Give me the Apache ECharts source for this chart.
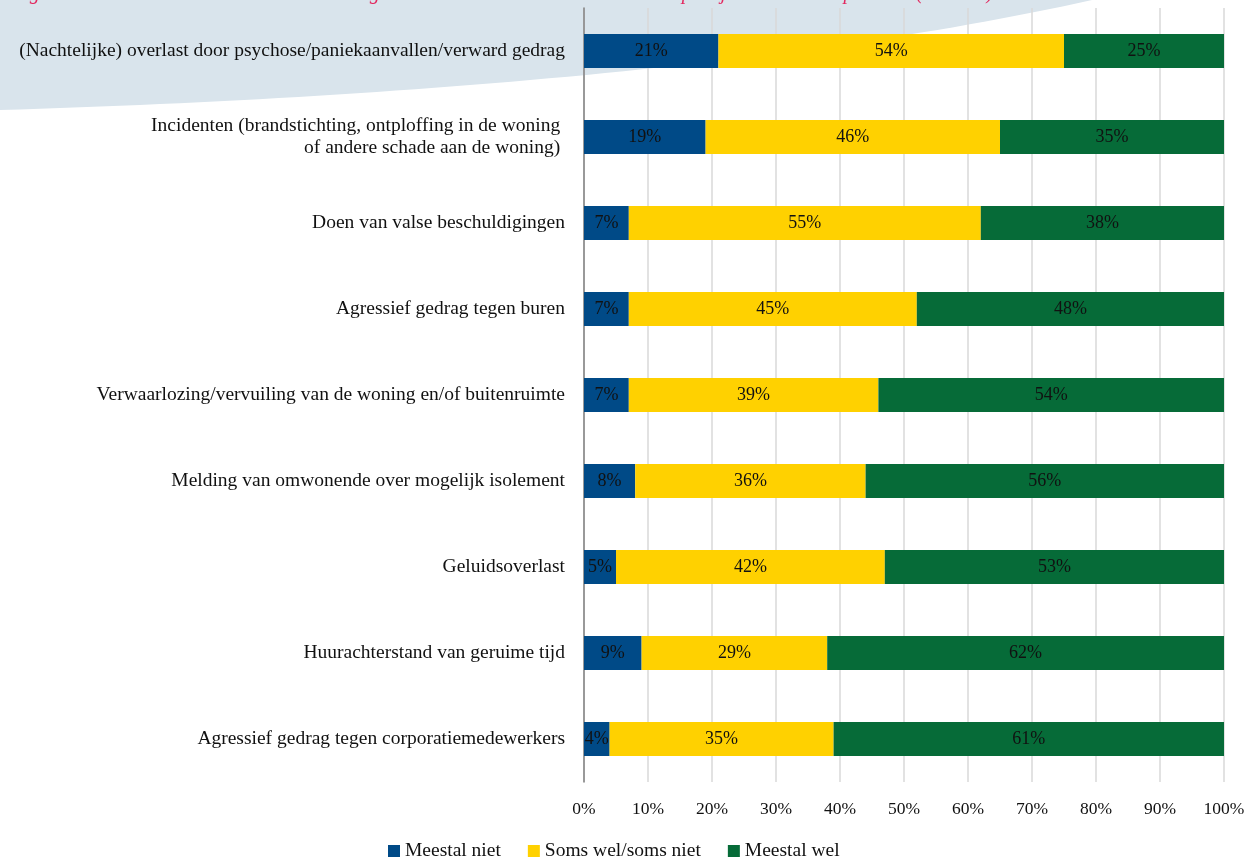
<!DOCTYPE html>
<html>
<head>
<meta charset="utf-8">
<script src="https://cdn.jsdelivr.net/npm/echarts@6/dist/echarts.min.js"></script>
<style>
  html, body { margin: 0; padding: 0; background: #ffffff; }
  #chart { width: 1251px; height: 861px; }
</style>
</head>
<body>
<div id="chart"></div>
<script>
// Signal categories, top to bottom
const categories = [
  '(Nachtelijke) overlast door psychose/paniekaanvallen/verward gedrag',
  'Incidenten (brandstichting, ontploffing in de woning \nof andere schade aan de woning) ',
  'Doen van valse beschuldigingen',
  'Agressief gedrag tegen buren',
  'Verwaarlozing/vervuiling van de woning en/of buitenruimte',
  'Melding van omwonende over mogelijk isolement',
  'Geluidsoverlast',
  'Huurachterstand van geruime tijd',
  'Agressief gedrag tegen corporatiemedewerkers'
];

const seriesNames = ['Meestal niet', 'Soms wel/soms niet', 'Meestal wel'];

// Percentages per category
const meestalNiet = [21, 19, 7, 7, 7, 8, 5, 9, 4];
const somsWel = [54, 46, 55, 45, 39, 36, 42, 29, 35];
const meestalWel = [25, 35, 38, 48, 54, 56, 53, 62, 61];

const titleText = 'Figuur 4.3  Hoe vaak leiden onderstaande signalen tot het inschakelen van externe partijen door de corporatie? (n = 109)';

const colors = ['#004a87', '#ffd100', '#066b38'];
const serif = '"Liberation Serif", "DejaVu Serif", serif';

// Decorative background swoosh in the upper-left corner: a filled cubic curve
function swooshPoints() {
  const p0 = [1092, 0], p1 = [800, 65], p2 = [400, 98], p3 = [0, 110];
  const pts = [[0, 0]];
  for (let i = 0; i <= 60; i++) {
    const t = i / 60, u = 1 - t;
    const a = u * u * u, b = 3 * u * u * t, c = 3 * u * t * t, d = t * t * t;
    pts.push([
      a * p0[0] + b * p1[0] + c * p2[0] + d * p3[0],
      a * p0[1] + b * p1[1] + c * p2[1] + d * p3[1]
    ]);
  }
  return pts;
}

const chart = echarts.init(document.getElementById('chart'), null, { renderer: 'canvas' });

function barSeries(name, data, color) {
  return {
    name: name,
    type: 'bar',
    stack: 'total',
    barWidth: 34,
    data: data,
    itemStyle: { color: color },
    label: {
      show: true,
      position: 'inside',
      formatter: '{c}%',
      color: '#111',
      fontFamily: serif,
      fontSize: 18
    },
    emphasis: { disabled: true }
  };
}

chart.setOption({
  animation: false,
  backgroundColor: '#ffffff',
  graphic: [
    {
      type: 'polygon',
      z: -10,
      silent: true,
      shape: { points: swooshPoints() },
      style: { fill: '#d9e4ec' }
    },
    {
      type: 'text',
      z: -5,
      silent: true,
      x: 12,
      y: -16,
      style: {
        text: titleText,
        fill: '#e2285f',
        font: 'italic 20px ' + serif
      }
    }
  ],
  grid: { left: 584, right: 27, top: 8, bottom: 79 },
  legend: {
    data: seriesNames,
    left: 383,
    top: 836,
    itemWidth: 12,
    itemHeight: 12,
    itemGap: 27,
    icon: 'rect',
    textStyle: { color: '#111', fontFamily: serif, fontSize: 19.5 }
  },
  xAxis: {
    type: 'value',
    min: 0,
    max: 100,
    interval: 10,
    axisLine: { show: false },
    axisTick: { show: false },
    splitLine: { show: true, lineStyle: { color: '#d9d9d9', width: 1.5 } },
    axisLabel: {
      formatter: '{value}%',
      color: '#111',
      fontFamily: serif,
      fontSize: 17.5,
      margin: 18
    }
  },
  yAxis: {
    type: 'category',
    inverse: true,
    data: categories,
    axisLine: { show: true, lineStyle: { color: '#808080', width: 1.5 } },
    axisTick: { show: false },
    axisLabel: {
      color: '#111',
      fontFamily: serif,
      fontSize: 19.5,
      margin: 19,
      lineHeight: 22
    }
  },
  series: [
    barSeries(seriesNames[0], meestalNiet, colors[0]),
    barSeries(seriesNames[1], somsWel, colors[1]),
    barSeries(seriesNames[2], meestalWel, colors[2])
  ]
});
</script>
</body>
</html>
